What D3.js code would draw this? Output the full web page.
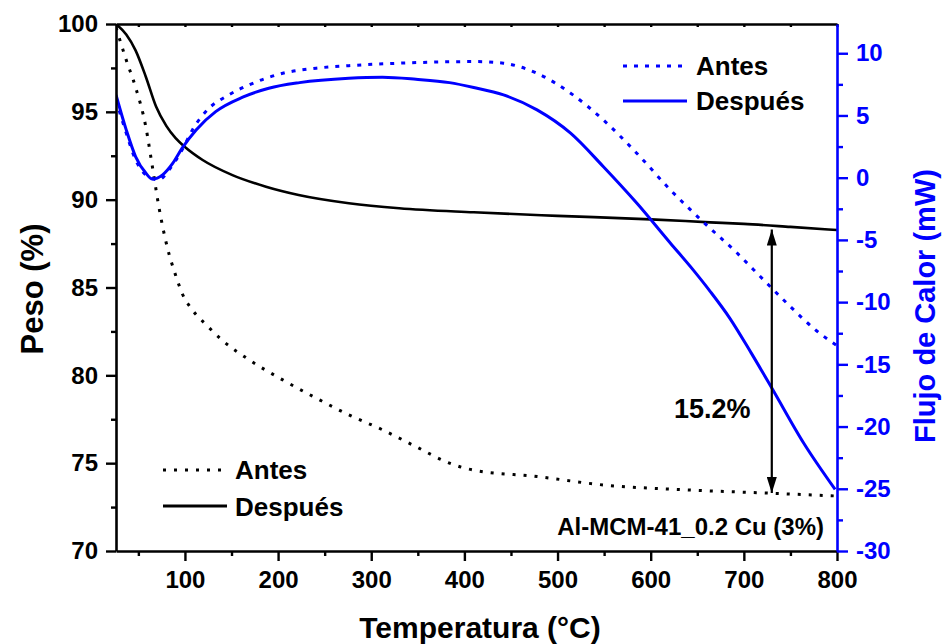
<!DOCTYPE html>
<html><head><meta charset="utf-8">
<script src="https://cdn.jsdelivr.net/npm/d3@7"></script>
<style>
body{margin:0;background:#fff}
text{font-family:"Liberation Sans",Arial,Helvetica,sans-serif;font-weight:bold}
</style>
</head><body>
<svg id="c" width="945" height="644"></svg>
<script>
// ---- data ----
const xDomain = [26, 800];
const weightDomain = [70, 100];
const flowDomain = [-30, 12.35];
const xTicks = [100, 200, 300, 400, 500, 600, 700, 800];
const weightTicks = [70, 75, 80, 85, 90, 95, 100];
const flowTicks = [-30, -25, -20, -15, -10, -5, 0, 5, 10];

const weightBeforeT = [26, 37, 47, 58, 65, 72, 81, 90, 97, 108, 123, 140, 169, 205, 241, 276, 312, 348, 384, 410, 478, 549, 639, 728, 800];
const weightBefore  = [99.8, 97.95, 96.4, 94.15, 91.9, 89.6, 87.3, 85.7, 84.67, 83.72, 82.87, 82.0, 80.88, 79.74, 78.7, 77.75, 76.9, 75.94, 75.0, 74.6, 74.24, 73.76, 73.48, 73.29, 73.13];

const weightAfterT = [26, 37, 47, 58, 69, 80, 90, 100, 119, 151, 187, 222, 276, 330, 410, 500, 600, 664, 700, 750, 800];
const weightAfter  = [100, 99.4, 98.5, 97.0, 95.3, 94.2, 93.5, 93.0, 92.26, 91.4, 90.74, 90.27, 89.8, 89.51, 89.28, 89.08, 88.88, 88.71, 88.62, 88.45, 88.27];

const flowBeforeT = [26, 37, 47, 58, 72, 83, 97, 108, 126, 144, 169, 205, 241, 276, 330, 413, 442, 478, 514, 549, 585, 621, 657, 692, 721, 746, 778, 800];
const flowBefore  = [6.25, 3.58, 1.44, 0.23, -0.17, 0.63, 2.24, 3.84, 5.59, 6.52, 7.46, 8.39, 8.8, 9.0, 9.2, 9.33, 9.2, 8.39, 6.79, 4.65, 1.97, -0.97, -3.6, -6.0, -8.2, -10.07, -12.3, -13.5];

const flowAfterT = [26, 37, 47, 58, 65, 76, 87, 97, 112, 133, 162, 190, 223, 276, 312, 348, 384, 410, 442, 478, 514, 549, 585, 621, 646, 664, 685, 708, 730, 764, 798];
const flowAfter  = [6.65, 3.84, 1.70, 0.37, -0.11, 0.23, 1.17, 2.38, 3.84, 5.31, 6.47, 7.19, 7.64, 7.99, 8.07, 7.91, 7.64, 7.25, 6.65, 5.45, 3.58, 0.90, -2.04, -5.25, -7.45, -9.15, -11.3, -14.1, -16.9, -21.3, -25.05];

const legendLabels = ["Antes", "Después"];
const arrowT = 730, arrowTop = 88.3, arrowBottom = 73.3;
const lossLabel = "15.2%";
const sampleLabel = "Al-MCM-41_0.2 Cu (3%)";

// ---- layout ----
const L = 116, R = 837, T = 24, B = 551;
const BLUE = "#0000ff";
const svg = d3.select("#c");

const x = d3.scaleLinear().domain(xDomain).range([L, R]);
const yW = d3.scaleLinear().domain(weightDomain).range([B, T]);
const yF = d3.scaleLinear().domain(flowDomain).range([B, T]);

svg.append("defs").append("clipPath").attr("id", "clip")
  .append("rect").attr("x", L).attr("y", T).attr("width", R - L).attr("height", B - T);

const zip = (a, b) => a.map((d, i) => [d, b[i]]);
const curve = d3.curveMonotoneX;
const lineW = d3.line().x(d => x(d[0])).y(d => yW(d[1])).curve(curve);
const lineF = d3.line().x(d => x(d[0])).y(d => yF(d[1])).curve(curve);

const g = svg.append("g").attr("clip-path", "url(#clip)");
g.append("path").attr("d", lineW(zip(weightBeforeT, weightBefore)))
  .attr("fill", "none").attr("stroke", "#000").attr("stroke-width", 3).attr("stroke-dasharray", "3,8");
g.append("path").attr("d", lineW(zip(weightAfterT, weightAfter)))
  .attr("fill", "none").attr("stroke", "#000").attr("stroke-width", 2.6);
g.append("path").attr("d", lineF(zip(flowBeforeT, flowBefore)))
  .attr("fill", "none").attr("stroke", BLUE).attr("stroke-width", 3).attr("stroke-dasharray", "4,7");
g.append("path").attr("d", lineF(zip(flowAfterT, flowAfter)))
  .attr("fill", "none").attr("stroke", BLUE).attr("stroke-width", 3);

// ---- axes ----
function style(sel, color) {
  sel.selectAll("path.domain").attr("stroke", color).attr("stroke-width", 2.6);
  sel.selectAll(".tick line").attr("stroke", color).attr("stroke-width", 2.4);
  sel.selectAll(".tick text").attr("fill", color).style("font-size", "24px")
     .style("font-family", '"Liberation Sans",Arial,sans-serif').style("font-weight", "bold");
}
const fmt = d => String(d);
const minorX = d3.range(50, 801, 50).filter(v => v % 100 !== 0);
const minorW = d3.range(72.5, 100, 5);
const minorF = d3.range(-27.5, 12.35, 5);

// bottom
svg.append("g").attr("transform", `translate(0,${B})`)
  .call(d3.axisBottom(x).tickValues(minorX).tickSize(5).tickFormat("").tickSizeOuter(0))
  .call(s => style(s, "#000")).call(s => s.select(".domain").remove());
svg.append("g").attr("transform", `translate(0,${B})`)
  .call(d3.axisBottom(x).tickValues(xTicks).tickFormat(fmt).tickSize(10).tickPadding(10).tickSizeOuter(0))
  .call(s => style(s, "#000"));
// top
svg.append("g").attr("transform", `translate(0,${T})`)
  .call(d3.axisBottom(x).tickValues(xTicks.concat(minorX)).tickSize(3).tickFormat("").tickSizeOuter(0))
  .call(s => style(s, "#000"));
// left
svg.append("g").attr("transform", `translate(${L},0)`)
  .call(d3.axisLeft(yW).tickValues(minorW).tickSize(5).tickFormat("").tickSizeOuter(0))
  .call(s => style(s, "#000")).call(s => s.select(".domain").remove());
svg.append("g").attr("transform", `translate(${L},0)`)
  .call(d3.axisLeft(yW).tickValues(weightTicks).tickFormat(fmt).tickSize(10).tickPadding(8).tickSizeOuter(0))
  .call(s => style(s, "#000"));
// right
svg.append("g").attr("transform", `translate(${R},0)`)
  .call(d3.axisRight(yF).tickValues(minorF).tickSize(6).tickFormat("").tickSizeOuter(0))
  .call(s => style(s, BLUE)).call(s => s.select(".domain").remove());
svg.append("g").attr("transform", `translate(${R},0)`)
  .call(d3.axisRight(yF).tickValues(flowTicks).tickFormat(fmt).tickSize(11).tickPadding(8).tickSizeOuter(0))
  .call(s => style(s, BLUE));

// ---- titles ----
svg.append("text").attr("x", 480).attr("y", 638).attr("text-anchor", "middle")
  .style("font-size", "30px").text("Temperatura (°C)");
svg.append("text").attr("transform", "translate(43,289) rotate(-90)").attr("text-anchor", "middle")
  .style("font-size", "31px").text("Peso (%)");
svg.append("text").attr("transform", "translate(935,306) rotate(-90)").attr("text-anchor", "middle")
  .attr("fill", BLUE).style("font-size", "29px").text("Flujo de Calor (mW)");

// ---- legends ----
function legend(x0, x1, ys, tx, tys, color, dash) {
  ys.forEach((yy, i) => {
    svg.append("line").attr("x1", x0).attr("x2", x1).attr("y1", yy).attr("y2", yy)
      .attr("stroke", color).attr("stroke-width", 3)
      .attr("stroke-dasharray", i === 0 ? dash : null);
    svg.append("text").attr("x", tx).attr("y", tys[i]).style("font-size", "26px")
      .attr("fill", "#000").text(legendLabels[i]);
  });
}
legend(163, 227, [470, 506], 235, [479, 516], "#000", "3,8");
legend(623, 687, [66, 101], 696, [75, 110], BLUE, "4,7");

// ---- annotation ----
const defs = svg.select("defs");
defs.append("marker").attr("id", "ah").attr("viewBox", "0 0 16 10").attr("refX", 16).attr("refY", 5)
  .attr("markerWidth", 16).attr("markerHeight", 10).attr("markerUnits", "userSpaceOnUse")
  .attr("orient", "auto-start-reverse")
  .append("path").attr("d", "M0,0 L16,5 L0,10 Z").attr("fill", "#000");
svg.append("line").attr("x1", x(arrowT)).attr("x2", x(arrowT))
  .attr("y1", yW(arrowTop)).attr("y2", yW(arrowBottom))
  .attr("stroke", "#000").attr("stroke-width", 2.2)
  .attr("marker-start", "url(#ah)").attr("marker-end", "url(#ah)");
svg.append("text").attr("x", 674).attr("y", 418).style("font-size", "27px").text(lossLabel);
svg.append("text").attr("x", 824).attr("y", 535).attr("text-anchor", "end")
  .style("font-size", "24px").text(sampleLabel);
</script>
</body></html>
